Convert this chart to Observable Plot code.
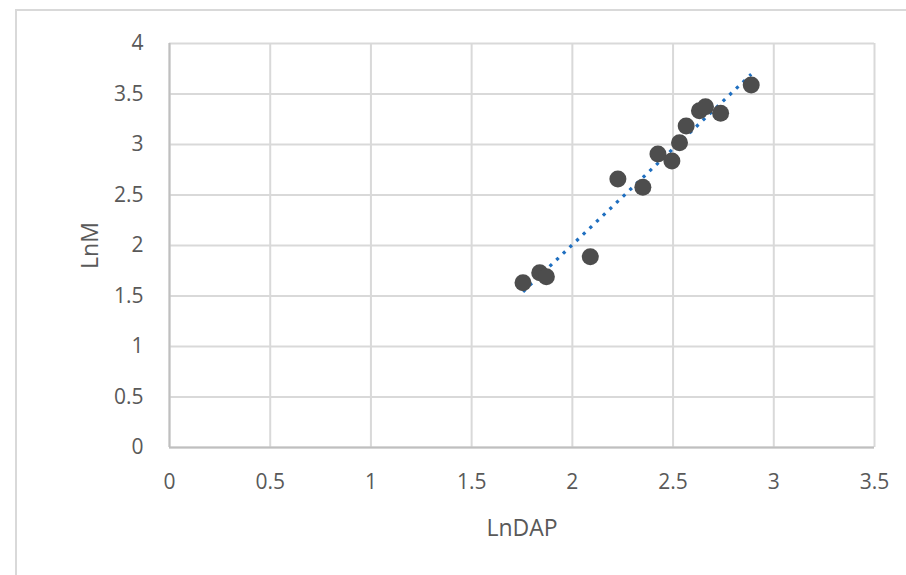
<!DOCTYPE html>
<html><head><meta charset="utf-8">
<script src="https://cdn.jsdelivr.net/npm/d3@7"></script>
<script src="https://cdn.jsdelivr.net/npm/@observablehq/plot@0.6"></script>
<style>
body{margin:0;background:#fff;}
#wrap{position:relative;width:906px;height:575px;overflow:hidden;}
#border{position:absolute;left:15px;top:9px;width:1000px;height:1000px;border:2px solid #d9d9d9;box-sizing:border-box;}
#chart{position:absolute;left:0;top:0;}
</style></head><body><div id="wrap"><div id="border"></div><div id="chart"></div></div>
<script>
const lnDAP = [1.755, 1.838, 1.871, 2.089, 2.226, 2.350, 2.425, 2.494, 2.532, 2.565, 2.631, 2.661, 2.736, 2.888];
const lnM   = [1.632, 1.731, 1.691, 1.889, 2.658, 2.576, 2.906, 2.837, 3.018, 3.183, 3.335, 3.374, 3.309, 3.589];
const xTicks = [0, 0.5, 1, 1.5, 2, 2.5, 3, 3.5];
const yTicks = [0, 0.5, 1, 1.5, 2, 2.5, 3, 3.5, 4];
const data = lnDAP.map((x, i) => ({x, y: lnM[i]}));

const chart = Plot.plot({
  width: 906, height: 575,
  marginLeft: 169, marginRight: 32, marginTop: 43, marginBottom: 128,
  x: {domain: [0, 3.5]},
  y: {domain: [0, 4]},
  style: {fontFamily: "'Open Sans', sans-serif", fontSize: "21px", color: "#595959", background: "transparent"},
  marks: [
    Plot.gridX(xTicks, {stroke: "#d9d9d9", strokeOpacity: 1, strokeWidth: 2}),
    Plot.gridY(yTicks, {stroke: "#d9d9d9", strokeOpacity: 1, strokeWidth: 2}),
    Plot.ruleY([0], {stroke: "#bfbfbf", strokeWidth: 2}),
    Plot.ruleX([0], {stroke: "#bfbfbf", strokeWidth: 2}),
    Plot.axisX(xTicks, {tickSize: 0, tickPadding: 27, fontSize: 21, tickFormat: d => String(d), label: "LnDAP", labelAnchor: "center", labelArrow: "none", labelOffset: 88, fill: "#595959"}),
    Plot.axisY(yTicks, {tickSize: 0, tickPadding: 26, fontSize: 21, tickFormat: d => String(d), label: "LnM", labelAnchor: "center", labelArrow: "none", labelOffset: 88, fill: "#595959"}),
    Plot.linearRegressionY(data, {x: "x", y: "y", ci: 0, stroke: "#1f6fc0", strokeWidth: 3.2, strokeDasharray: "3.2 6", strokeLinecap: "butt"}),
    Plot.dot(data, {x: "x", y: "y", r: 8.5, fill: "#4d4d4d", stroke: "none"})
  ]
});
chart.querySelectorAll("[aria-label='x-axis label'] text, [aria-label='y-axis label'] text").forEach(t => t.setAttribute("font-size", "23px"));
document.getElementById("chart").appendChild(chart);
</script></body></html>
